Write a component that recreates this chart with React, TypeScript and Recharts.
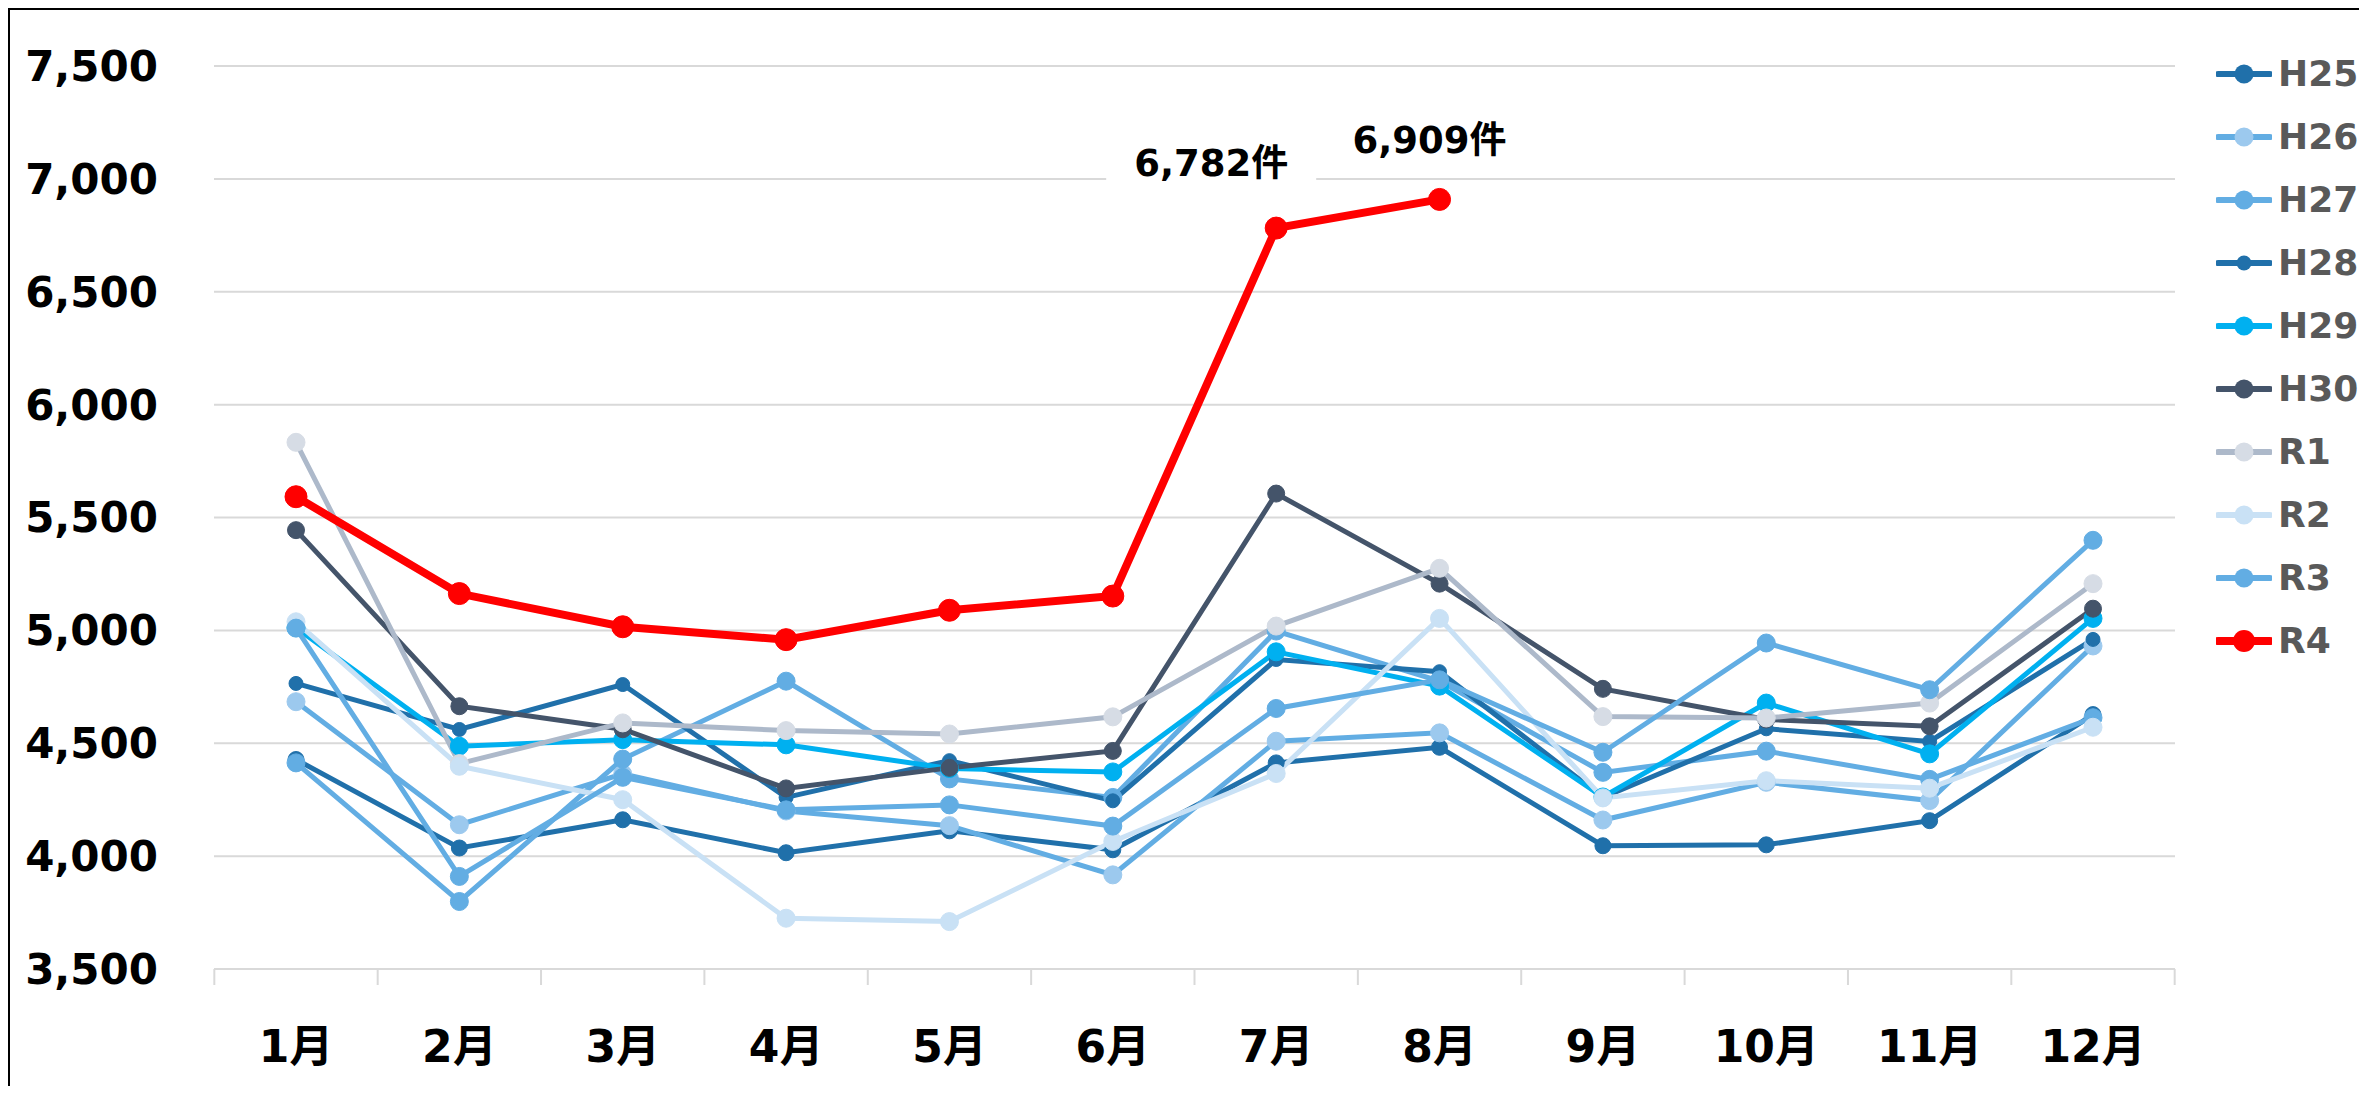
import { LineChart, Line, XAxis, YAxis, CartesianGrid, LabelList } from 'recharts';

const FONT = '"DejaVu Sans", "Noto Sans CJK JP", sans-serif';

const months = ['1月', '2月', '3月', '4月', '5月', '6月', '7月', '8月', '9月', '10月', '11月', '12月'];
const yTicks = [3500, 4000, 4500, 5000, 5500, 6000, 6500, 7000, 7500];

const h25 = [4428, 4036, 4161, 4015, 4112, 4028, 4413, 4482, 4046, 4050, 4157, 4627];
const h26 = [4684, 4139, 4364, 4200, 4135, 3917, 4509, 4546, 4160, 4327, 4246, 4931];
const h27 = [4413, 3799, 4430, 4775, 4342, 4260, 4997, 4775, 4371, 4465, 4340, 4613];
const h28 = [4765, 4561, 4760, 4260, 4423, 4245, 4871, 4817, 4260, 4564, 4508, 4960];
const h29 = [5012, 4487, 4516, 4493, 4388, 4373, 4905, 4753, 4262, 4678, 4453, 5053];
const h30 = [5444, 4664, 4562, 4300, 4391, 4466, 5606, 5207, 4741, 4605, 4575, 5096];
const r1 = [5833, 4410, 4590, 4556, 4541, 4617, 5019, 5275, 4618, 4612, 4678, 5207];
const r2 = [5038, 4398, 4250, 3725, 3710, 4065, 4366, 5053, 4258, 4334, 4301, 4571];
const r3 = [5010, 3910, 4349, 4205, 4227, 4133, 4654, 4781, 4460, 4944, 4737, 5399];
const r4 = [5592, 5163, 5016, 4959, 5089, 5152, 6782, 6909];

const series = [
    { key: 'H25', values: h25, stroke: '#2070AA', fill: '#2070AA', width: 5, r: 8 },
    { key: 'H26', values: h26, stroke: '#62ADE3', fill: '#9CC9EE', width: 5, r: 9 },
    { key: 'H27', values: h27, stroke: '#62ADE3', fill: '#62ADE3', width: 5, r: 9 },
    { key: 'H28', values: h28, stroke: '#2070AA', fill: '#2070AA', width: 5, r: 7 },
    { key: 'H29', values: h29, stroke: '#00B0F0', fill: '#00B0F0', width: 5, r: 9 },
    { key: 'H30', values: h30, stroke: '#44546A', fill: '#44546A', width: 5, r: 8.5 },
    { key: 'R1', values: r1, stroke: '#ADB9CA', fill: '#D6DCE5', width: 5, r: 9 },
    { key: 'R2', values: r2, stroke: '#C9E1F5', fill: '#C9E1F5', width: 5, r: 9 },
    { key: 'R3', values: r3, stroke: '#62ADE3', fill: '#62ADE3', width: 5, r: 9 },
    { key: 'R4', values: r4, stroke: '#FF0000', fill: '#FF0000', width: 8, r: 11 },
];

const data = months.map((month, i) => {
    const row: any = { month };
    series.forEach(s => {
        row[s.key] = s.values[i] ?? null;
    });
    return row;
});

// layout
const W = 2349;
const H = 1076;
const M = { top: 56, right: 184, bottom: 17, left: 0 };
const Y_W = 204;
const PAD = 82;
const plotW = W - M.left - M.right - Y_W;
const STEP = (plotW - PAD * 2) / (months.length - 1);

// offsets of the two value callouts from their points
const calloutOffsets: Record<number, [number, number]> = { 6: [-65, -65], 7: [-10, -59] };

const MonthTick = (props: any) => {
    const { x, y, payload, index } = props;
    const half = STEP / 2;
    return (
        <g>
            <line x1={x - half} x2={x - half} y1={y} y2={y + 16} stroke="#D9D9D9" strokeWidth={2} />
            {index === months.length - 1 && (
                <line x1={x + half} x2={x + half} y1={y} y2={y + 16} stroke="#D9D9D9" strokeWidth={2} />
            )}
            <text x={x} y={y + 77} textAnchor="middle" dominantBaseline="central"
                fontFamily={FONT} fontWeight="bold" fontSize={44} fill="#000">
                {payload.value}
            </text>
        </g>
    );
};

const Callout = (props: any) => {
    const { x, y, value, index } = props;
    const off = calloutOffsets[index];
    if (!off || value == null) return null;
    const cx = x + off[0];
    const cy = y + off[1];
    return (
        <g>
            <rect x={cx - 105} y={cy - 19} width={210} height={38} fill="#fff" />
            <text x={cx} y={cy} textAnchor="middle" dominantBaseline="central"
                fontFamily={FONT} fontWeight="bold" fontSize={37} fill="#000">
                {`${Number(value).toLocaleString('en-US')}件`}
            </text>
        </g>
    );
};

export default function App() {
    return (
        <div style={{
            position: 'relative', width: 2351, height: 1078, boxSizing: 'border-box',
            borderTop: '2px solid #000', borderLeft: '2px solid #000', background: '#fff',
        }}>
            <LineChart width={W} height={H} data={data} margin={M}>
                <CartesianGrid horizontal vertical={false} stroke="#D9D9D9" strokeWidth={2} />
                <XAxis
                    dataKey="month"
                    height={100}
                    padding={{ left: PAD, right: PAD }}
                    interval={0}
                    tickSize={0}
                    tickMargin={0}
                    tickLine={false}
                    axisLine={{ stroke: '#D9D9D9', strokeWidth: 2 }}
                    tick={<MonthTick />}
                />
                <YAxis
                    width={Y_W}
                    domain={[3500, 7500]}
                    ticks={yTicks}
                    interval={0}
                    axisLine={false}
                    tickLine={false}
                    tickSize={0}
                    tickMargin={56}
                    tick={{ fill: '#000', fontSize: 42, fontWeight: 'bold', fontFamily: FONT }}
                    tickFormatter={(v: number) => v.toLocaleString('en-US')}
                />
                {series.map(s => (
                    <Line
                        key={s.key}
                        dataKey={s.key}
                        type="linear"
                        stroke={s.stroke}
                        strokeWidth={s.width}
                        dot={{ r: s.r, fill: s.fill, stroke: s.fill, strokeWidth: 1 }}
                        activeDot={false}
                        isAnimationActive={false}
                        connectNulls={false}
                    >
                        {s.key === 'R4' && <LabelList dataKey="R4" content={<Callout />} />}
                    </Line>
                ))}
            </LineChart>
            <div style={{ position: 'absolute', left: 2206, top: 32, fontFamily: FONT }}>
                {series.map(s => (
                    <div key={s.key} style={{ height: 63, display: 'flex', alignItems: 'center', whiteSpace: 'nowrap' }}>
                        <svg width={56} height={24}>
                            <line x1={2} x2={54} y1={12} y2={12} stroke={s.stroke}
                                strokeWidth={s.key === 'R4' ? 8 : 6} strokeLinecap="round" />
                            <circle cx={28} cy={12} r={s.key === 'R4' ? 11 : s.key === 'H28' ? 7.5 : 9.5} fill={s.fill} />
                        </svg>
                        <span style={{ marginLeft: 6, fontSize: 36, fontWeight: 'bold', color: '#595959' }}>{s.key}</span>
                    </div>
                ))}
            </div>
        </div>
    );
}
